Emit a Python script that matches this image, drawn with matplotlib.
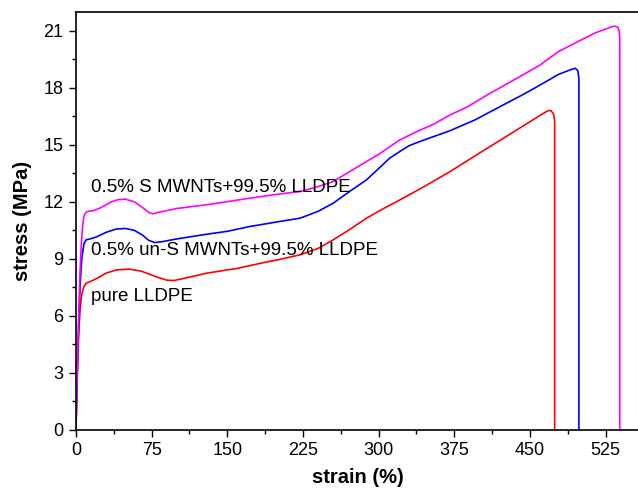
import matplotlib
matplotlib.use("Agg")
import matplotlib.pyplot as plt
from matplotlib.ticker import MultipleLocator

plt.rcParams['font.family'] = ['Liberation Sans', 'DejaVu Sans']

# pure LLDPE
strain_pure = [0, 1, 2, 3, 4, 5, 6, 8, 10, 14, 20, 30, 40, 53, 65, 80, 90, 97, 105,
               130, 160, 183, 200, 222, 240, 255, 270, 288, 305, 321, 345, 371,
               395, 421, 445, 460, 468, 471, 473.5, 474.5, 474.5]
stress_pure = [0, 2.2, 4.0, 5.3, 6.2, 6.8, 7.2, 7.55, 7.72, 7.8, 7.95, 8.25, 8.42, 8.46,
               8.35, 8.05, 7.88, 7.86, 7.95, 8.25, 8.5, 8.77, 8.95, 9.21, 9.55, 10.0,
               10.5, 11.14, 11.65, 12.1, 12.8, 13.6, 14.4, 15.26, 16.05, 16.55, 16.8,
               16.8, 16.6, 16.3, 0]

# 0.5% un-S MWNTs + 99.5% LLDPE
strain_uns = [0, 1, 2, 3, 4, 5, 6, 8, 10, 14, 20, 30, 40, 49, 58, 66, 72, 78, 85,
              100, 130, 150, 172, 200, 222, 240, 255, 270, 288, 300, 311, 321, 330,
              338, 350, 371, 395, 420, 445, 465, 478, 490, 495, 497.5, 498.5, 498.5]
stress_uns = [0, 2.3, 4.3, 6.0, 7.4, 8.4, 9.1, 9.8, 10.0, 10.05, 10.15, 10.4, 10.57,
              10.6, 10.5, 10.25, 9.98, 9.86, 9.9, 10.05, 10.3, 10.45, 10.7, 10.95,
              11.14, 11.5, 11.93, 12.5, 13.16, 13.75, 14.3, 14.65, 14.95, 15.12, 15.35,
              15.75, 16.3, 17.0, 17.7, 18.3, 18.7, 18.95, 19.03, 18.9, 18.5, 0]

# 0.5% S MWNTs + 99.5% LLDPE
strain_s = [0, 1, 2, 3, 4, 5, 6, 7, 8, 10, 12, 18, 25, 35, 42, 49, 58, 66, 72, 76,
            82, 100, 130, 172, 200, 222, 240, 255, 270, 288, 300, 311, 321, 338,
            355, 371, 388, 410, 437, 460, 478, 500, 515, 528, 533, 537, 538.5, 539, 539]
stress_s = [0, 2.4, 4.6, 6.5, 8.2, 9.4, 10.3, 10.9, 11.25, 11.45, 11.5, 11.55, 11.7,
            12.0, 12.12, 12.14, 12.0, 11.7, 11.45, 11.37, 11.45, 11.65, 11.85, 12.19,
            12.4, 12.54, 12.8, 13.07, 13.55, 14.12, 14.5, 14.9, 15.26, 15.7, 16.1,
            16.58, 17.0, 17.7, 18.5, 19.2, 19.9, 20.5, 20.9, 21.15, 21.25, 21.2,
            21.0, 20.6, 0]

label_s = "0.5% S MWNTs+99.5% LLDPE"
label_uns = "0.5% un-S MWNTs+99.5% LLDPE"
label_pure = "pure LLDPE"

fig = plt.figure(figsize=(6.38, 4.93), dpi=100)
ax = fig.add_axes([0.119, 0.128, 0.884, 0.848])

ax.plot(strain_pure, stress_pure, color='#ff0000', lw=1.2)
ax.plot(strain_uns, stress_uns, color='#0000ff', lw=1.2)
ax.plot(strain_s, stress_s, color='#ff00ff', lw=1.2)

ax.text(15, 12.75, label_s, fontsize=13.5, va='center')
ax.text(15, 9.45, label_uns, fontsize=13.5, va='center')
ax.text(15, 7.0, label_pure, fontsize=13.5, va='center')

ax.set_xlim(0, 559)
ax.set_ylim(0, 22)
ax.xaxis.set_major_locator(MultipleLocator(75))
ax.xaxis.set_minor_locator(MultipleLocator(37.5))
ax.yaxis.set_major_locator(MultipleLocator(3))
ax.yaxis.set_minor_locator(MultipleLocator(1.5))
ax.tick_params(which='major', direction='out', length=5, width=1, labelsize=13, pad=4)
ax.tick_params(which='minor', direction='out', length=3, width=1)
for sp in ax.spines.values():
    sp.set_linewidth(1.2)
ax.spines['right'].set_visible(False)

ax.set_xlabel("strain (%)", fontsize=14.5, fontweight='bold', labelpad=6)
ax.set_ylabel("stress (MPa)", fontsize=14.5, fontweight='bold', labelpad=8)

fig.savefig("out.png", dpi=100)
